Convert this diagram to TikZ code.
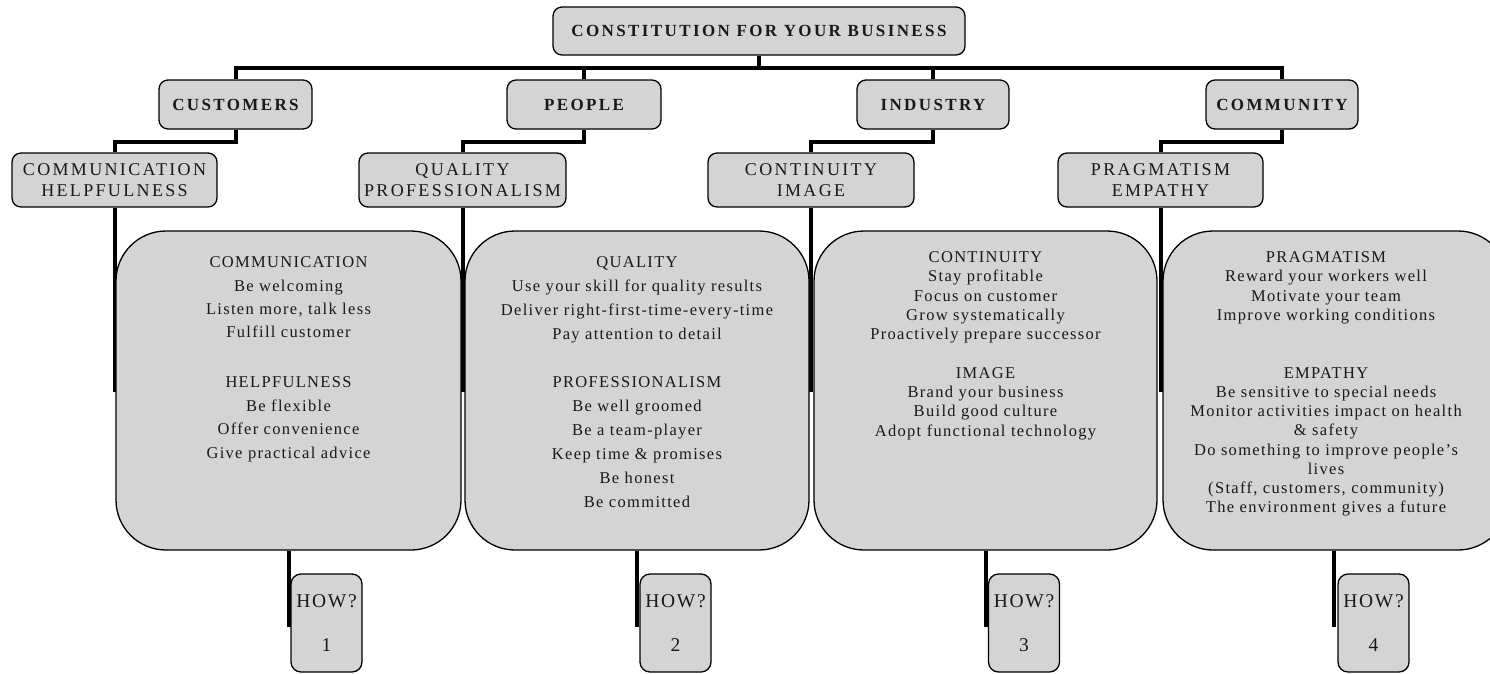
\documentclass[tikz,border=0pt]{standalone}
\usepackage{fontspec}
\setmainfont{Liberation Serif}
\newfontfamily\headfont[LetterSpace=14]{Liberation Serif}
\newfontfamily\lvltwofont[LetterSpace=13]{Liberation Serif}
\newfontfamily\bodyfont[LetterSpace=8]{Liberation Serif}
\newfontfamily\howfont[LetterSpace=9]{Liberation Serif}
\definecolor{boxfill}{RGB}{212,212,212}
\definecolor{ink}{RGB}{25,25,25}
\tikzset{
  base/.style={draw=black, line width=1.3pt, fill=boxfill, text=ink, align=center, inner sep=0pt},
  topbox/.style={base, rounded corners=9pt, minimum height=48pt, font={\headfont\fontsize{17}{18}\selectfont\bfseries}},
  lvlone/.style={base, rounded corners=9pt, minimum height=49pt, font={\headfont\fontsize{17}{18}\selectfont\bfseries}},
  lvltwo/.style={base, rounded corners=9pt, minimum height=54pt, font={\lvltwofont\fontsize{18}{21}\selectfont}},
  bigbox/.style={base, rounded corners=50pt, minimum height=319pt},
  howbox/.style={base, rounded corners=10pt, minimum width=71pt, minimum height=98pt, font={\howfont\fontsize{19.5}{20}\selectfont}},
  bodytext/.style={text=ink, align=center, inner sep=0pt, anchor=north},
  conn/.style={line width=4pt, draw=black},
}
\begin{document}
\begin{tikzpicture}[x=1pt, y=-1pt]
\useasboundingbox (0,0) rectangle (1490,673);
\clip (0,0) rectangle (1490,673);

% level 0 and 1
\node[topbox, minimum width=412pt] (top) at (759,31) {CONSTITUTION FOR YOUR BUSINESS};
\node[lvlone, minimum width=153pt] (cust) at (235.5,104.5) {CUSTOMERS};
\node[lvlone, minimum width=154pt] (peop) at (584,104.5) {PEOPLE};
\node[lvlone, minimum width=152pt] (indu) at (933,104.5) {INDUSTRY};
\node[lvlone, minimum width=152pt] (comu) at (1282,104.5) {COMMUNITY};

% level 2
\node[lvltwo, minimum width=205pt] (comm) at (114.5,180) {COMMUNICATION\\HELPFULNESS};
\node[lvltwo, minimum width=207pt] (qual) at (462.5,180) {QUALITY\\PROFESSIONALISM};
\node[lvltwo, minimum width=206pt] (cont) at (811,180) {CONTINUITY\\IMAGE};
\node[lvltwo, minimum width=205pt] (prag) at (1160.5,180) {PRAGMATISM\\EMPATHY};

% connectors top
\draw[conn] (top.south) -- ++(0,12) -| (cust.north);
\draw[conn] (top.south) -- ++(0,12) -| (peop.north);
\draw[conn] (top.south) -- ++(0,12) -| (indu.north);
\draw[conn] (top.south) -- ++(0,12) -| (comu.north);
\draw[conn] (cust.south) -- ++(0,12) -| (comm.north);
\draw[conn] (peop.south) -- ++(0,12) -| (qual.north);
\draw[conn] (indu.south) -- ++(0,12) -| (cont.north);
\draw[conn] (comu.south) -- ++(0,12) -| (prag.north);

% stems below level 2
\coordinate (s1) at (113,392);
\coordinate (s2) at (463,392);
\coordinate (s3) at (811,392);
\coordinate (s4) at (1160,392);
\draw[conn] (comm.south) -- (comm.south |- s1);
\draw[conn] (qual.south) -- (qual.south |- s2);
\draw[conn] (cont.south) -- (cont.south |- s3);
\draw[conn] (prag.south) -- (prag.south |- s4);

% big boxes
\node[bigbox, minimum width=345pt] (b1) at (288.5,390.5) {};
\node[bigbox, minimum width=344pt] (b2) at (637,390.5) {};
\node[bigbox, minimum width=343pt] (b3) at (985.5,390.5) {};
\node[bigbox, minimum width=345pt] (b4) at (1335.5,390.5) {};

\node[bodytext, font={\bodyfont\fontsize{16.5}{23.4}\selectfont}] (t1) at (288.5,256.5) {%
COMMUNICATION\\Be welcoming\\Listen more, talk less\\Fulfill customer\\[26.6pt]
HELPFULNESS\\Be flexible\\Offer convenience\\Give practical advice};
\node[bodytext, font={\bodyfont\fontsize{16.5}{24}\selectfont}] (t2) at (637,256.5) {%
QUALITY\\Use your skill for quality results\\Deliver right-first-time-every-time\\Pay attention to detail\\[24pt]
PROFESSIONALISM\\Be well groomed\\Be a team-player\\Keep time \& promises\\Be honest\\Be committed};
\node[bodytext, font={\bodyfont\fontsize{16.5}{19.2}\selectfont}] (t3) at (985.5,251.5) {%
CONTINUITY\\Stay profitable\\Focus on customer\\Grow systematically\\Proactively prepare successor\\[19.8pt]
IMAGE\\Brand your business\\Build good culture\\Adopt functional technology};
\node[bodytext, font={\bodyfont\fontsize{16.5}{19.2}\selectfont}] (t4) at (1326,251.5) {%
PRAGMATISM\\Reward your workers well\\Motivate your team\\Improve working conditions\\[38.8pt]
EMPATHY\\Be sensitive to special needs\\Monitor activities impact on health\\\& safety\\Do something to improve people’s\\lives\\(Staff, customers, community)\\The environment gives a future};

% how stems and boxes
\draw[conn] (b1.south) -- ++(0,76) coordinate (e1);
\draw[conn] (b2.south) -- ++(0,76) coordinate (e2);
\draw[conn] (b3.south) -- ++(0,76) coordinate (e3);
\draw[conn] (b4.south -| 1334,0) -- ++(0,76) coordinate (e4);
\node[howbox] (h1) at (326.5,623) {HOW?\\[24pt]1};
\node[howbox] (h2) at (675.5,623) {HOW?\\[24pt]2};
\node[howbox] (h3) at (1024,623) {HOW?\\[24pt]3};
\node[howbox] (h4) at (1373.5,623) {HOW?\\[24pt]4};
\end{tikzpicture}
\end{document}
